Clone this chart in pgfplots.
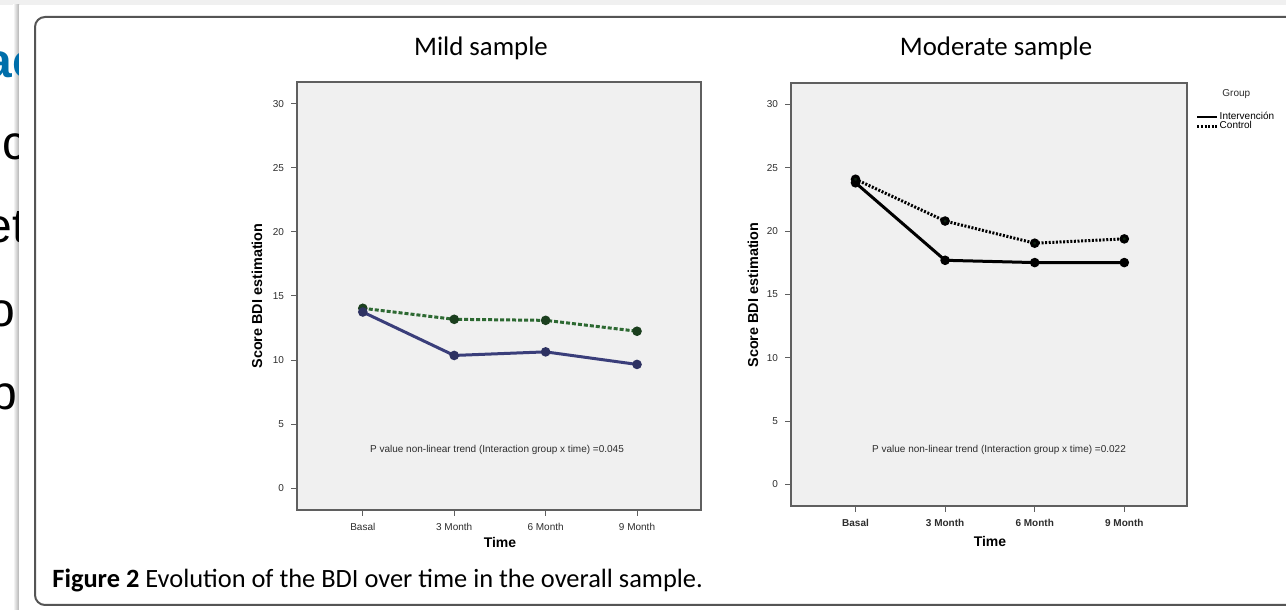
\documentclass[border=0pt]{standalone}
\usepackage{fontspec}
\setmainfont{Liberation Sans}
\newfontfamily\carlito{Carlito}
\usepackage{pgfplots}
\pgfplotsset{compat=1.18}

\definecolor{slideblue}{RGB}{0,110,170}
\definecolor{framegray}{RGB}{85,85,85}
\definecolor{plotbg}{RGB}{240,240,240}
\definecolor{axisgray}{RGB}{95,95,95}
\definecolor{ticktext}{RGB}{45,45,45}
\definecolor{mildblue}{RGB}{58,62,122}
\definecolor{mildgreen}{RGB}{45,105,50}

\pgfplotsset{
  spss/.style={
    scale only axis,
    xmin=-0.72, xmax=3.7, ymin=-1.7, ymax=31.7,
    axis background/.style={fill=plotbg},
    axis line style={draw=axisgray, line width=1pt},
    xtick={0,1,2,3},
    xticklabels={Basal,3 Month,6 Month,9 Month},
    ytick={0,5,...,30},
    tick align=outside, tick pos=left,
    major tick length=3pt,
    tick style={draw=axisgray, line width=0.5pt},
    yticklabel style={font=\fontsize{5}{5}\selectfont, text=ticktext},
    /pgf/number format/assume math mode=true,
    every axis plot/.append style={line width=1.5pt, mark=*, mark size=1.6pt},
  },
}

\begin{document}
\begin{tikzpicture}[x=0.5pt,y=0.5pt]
\useasboundingbox (0,0) rectangle (1286,610);
\begin{scope}
\clip (0,0) rectangle (1286,610);
\fill[gray!12] (0,605) rectangle (1286,610);
\shade[left color=white, right color=gray!60] (13,0) rectangle (19,605);
% slide text cut off by the figure window
\begin{scope}
\clip (0,0) rectangle (18,605);
\node[anchor=base west, inner sep=0, font=\fontsize{24}{24}\selectfont\bfseries, text=slideblue] at (-15,532) {ac};
\node[anchor=base west, inner sep=0, font=\fontsize{24}{24}\selectfont] at (2,450) {c};
\node[anchor=base west, inner sep=0, font=\fontsize{24}{24}\selectfont] at (-15,367) {et};
\node[anchor=base west, inner sep=0, font=\fontsize{24}{24}\selectfont] at (-12,283) {o};
\node[anchor=base west, inner sep=0, font=\fontsize{24}{24}\selectfont] at (-10,200) {p};
\end{scope}
\fill[white] (19,0) rectangle (1286,605);
\draw[framegray, line width=1pt, rounded corners=5pt] (35,5) rectangle (1320,593);
\end{scope}

% ---- Mild sample ----
\begin{axis}[spss, at={(148.5pt,50pt)}, anchor=south west, width=202pt, height=214pt,
  xticklabel style={font=\fontsize{5}{5}\selectfont, text=ticktext}]
\addplot[mildgreen, dash pattern=on 2pt off 1pt, mark options={solid, fill=mildgreen!60!black, draw=mildgreen!60!black}] coordinates {
  (0,14.04) (1,13.18) (2,13.10) (3,12.25)
};
\addplot[mildblue, mark options={fill=mildblue!80!black, draw=mildblue!80!black}] coordinates {
  (0,13.75) (1,10.36) (2,10.64) (3,9.66)
};
\end{axis}

% ---- Moderate sample ----
\begin{axis}[spss, at={(395.5pt,52pt)}, anchor=south west, width=198pt, height=211.5pt,
  xticklabel style={font=\fontsize{5}{5}\selectfont\bfseries, text=ticktext},
  legend style={at={(rel axis cs:1.022,0.936)}, anchor=north west, draw=none, fill=none,
    inner sep=0pt, font=\fontsize{5}{5}\selectfont, row sep=-1.5pt,
    nodes={inner sep=0.6pt}},
  legend cell align=left,
  legend image code/.code={\draw[#1, mark=none, line width=1.2pt] (0pt,0pt) -- (10pt,0pt);}]
\addplot[black, mark options={fill=black}] coordinates {
  (0,23.82) (1,17.70) (2,17.52) (3,17.52)
};
\addlegendentry{Intervención}
\addplot[black, dash pattern=on 1pt off 0.8pt, mark options={solid, fill=black!70!mildgreen}] coordinates {
  (0,24.10) (1,20.80) (2,19.05) (3,19.39)
};
\addlegendentry{Control}
\end{axis}

% titles and labels
\node[anchor=base, font=\carlito\fontsize{13.4}{14}\selectfont] at (481,554) {Mild sample};
\node[anchor=base, font=\carlito\fontsize{13.4}{14}\selectfont] at (996,554) {Moderate sample};
\node[font=\fontsize{7.2}{8}\selectfont\bfseries, rotate=90] at (257,314) {Score BDI estimation};
\node[font=\fontsize{7.2}{8}\selectfont\bfseries, rotate=90] at (753,315) {Score BDI estimation};
\node[font=\fontsize{7}{8}\selectfont\bfseries] at (500,67) {Time};
\node[font=\fontsize{7}{8}\selectfont\bfseries] at (990,68) {Time};
\node[font=\fontsize{5}{6}\selectfont, text=ticktext] at (497,160) {P value non-linear trend (Interaction group x time) =0.045};
\node[font=\fontsize{5}{6}\selectfont, text=ticktext] at (999,160) {P value non-linear trend (Interaction group x time) =0.022};
\node[anchor=west, inner sep=0, font=\fontsize{5}{6}\selectfont, text=ticktext] at (1222,516) {Group};
\node[anchor=base west, inner sep=0, font=\carlito\fontsize{13.2}{14}\selectfont] at (52,22) {\textbf{Figure 2} Evolution of the BDI over time in the overall sample.};
\end{tikzpicture}
\end{document}
